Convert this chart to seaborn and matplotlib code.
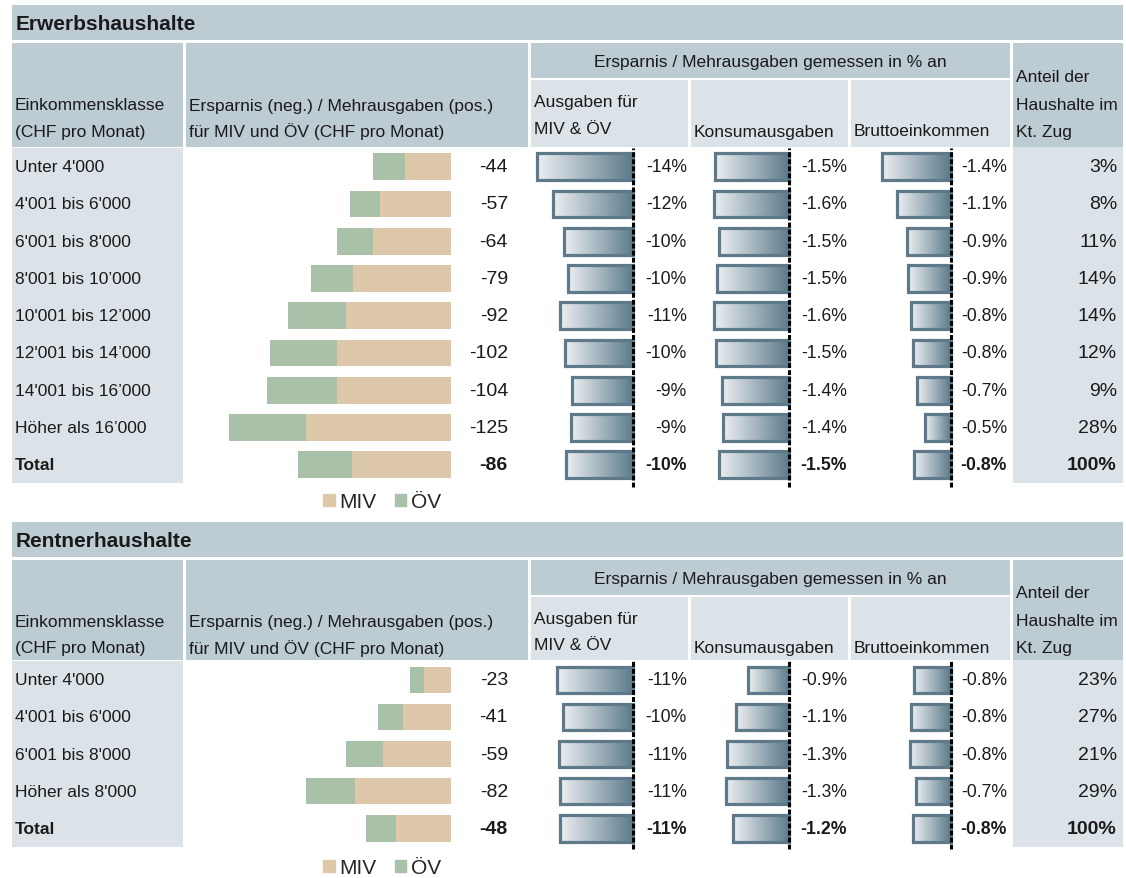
import numpy as np
import matplotlib
matplotlib.use("Agg")
import matplotlib.pyplot as plt
from matplotlib.patches import Rectangle, Patch
from matplotlib.colors import LinearSegmentedColormap
import seaborn as sns

sns.set_theme(style="white")
plt.rcParams["font.family"] = ["Liberation Sans", "DejaVu Sans"]

# ---------------------------------------------------------------- data
erwerb_klassen = ["Unter 4'000", "4'001 bis 6'000", "6'001 bis 8'000",
                  "8'001 bis 10’000", "10'001 bis 12’000", "12'001 bis 14’000",
                  "14'001 bis 16’000", "Höher als 16’000", "Total"]
erwerb_miv = [26, 40, 44, 55, 59, 64, 64, 82, 56]
erwerb_oev = [18, 17, 20, 24, 33, 38, 40, 43, 30]
erwerb_pct_mobil = [-14.0, -11.7, -10.1, -9.6, -10.7, -9.9, -8.9, -9.1, -9.8]
erwerb_pct_konsum = [-1.54, -1.56, -1.47, -1.50, -1.57, -1.52, -1.40, -1.38, -1.46]
erwerb_pct_einkommen = [-1.43, -1.11, -0.90, -0.88, -0.82, -0.79, -0.69, -0.54, -0.76]
erwerb_anteil = [3, 8, 11, 14, 14, 12, 9, 28, 100]

rentner_klassen = ["Unter 4'000", "4'001 bis 6'000", "6'001 bis 8'000",
                   "Höher als 8'000", "Total"]
rentner_miv = [15, 27, 38, 54, 31]
rentner_oev = [8, 14, 21, 28, 17]
rentner_pct_mobil = [-11.1, -10.2, -10.9, -10.7, -10.7]
rentner_pct_konsum = [-0.86, -1.10, -1.29, -1.31, -1.17]
rentner_pct_einkommen = [-0.76, -0.83, -0.84, -0.71, -0.78]
rentner_anteil = [23, 27, 21, 29, 100]

col_klasse = ["Einkommensklasse", "(CHF pro Monat)"]
col_chf = ["Ersparnis (neg.) / Mehrausgaben (pos.)", "für MIV und ÖV (CHF pro Monat)"]
col_group = "Ersparnis / Mehrausgaben gemessen in % an"
col_mobil = ["Ausgaben für", "MIV & ÖV"]
col_konsum = "Konsumausgaben"
col_einkommen = "Bruttoeinkommen"
col_anteil = ["Anteil der", "Haushalte im", "Kt. Zug"]
legend_labels = ["MIV", "ÖV"]

# ---------------------------------------------------------------- style
W, H = 1126, 879
DARK = "#bdcbd3"
LIGHT = "#dce3e8"
MIV_C = "#ddc9a9"
OEV_C = "#a9c1a9"
EDGE = "#5e7a8a"
TXT = "#1a1a1a"
grad_cmap = LinearSegmentedColormap.from_list("slate", ["#eceff2", "#5c7a8a"])
FS = 12.5        # headers and row labels
FS_TITLE = 15
FS_CHF = 14      # CHF values and household shares
FS_PCT = 12.7    # percentage labels
FS_LEG = 15

fig = plt.figure(figsize=(W / 100, H / 100), dpi=100)
fig.patch.set_facecolor("white")

bg = fig.add_axes([0, 0, 1, 1])
bg.set_xlim(0, W)
bg.set_ylim(H, 0)
bg.axis("off")


def px_axes(x0, y0, x1, y1):
    ax = fig.add_axes([x0 / W, 1 - y1 / H, (x1 - x0) / W, (y1 - y0) / H])
    ax.patch.set_alpha(0)
    return ax


def cell(x0, y0, x1, y1, color):
    bg.add_patch(Rectangle((x0, y0), x1 - x0, y1 - y0, color=color, lw=0, zorder=0))


def txt(x, y, s, ha="left", bold=False, size=FS):
    bg.text(x, y, s, ha=ha, va="center", fontsize=size, color=TXT,
            fontweight="bold" if bold else "normal", zorder=5)


BAR_W = 0.717
# (left px, right px, zero px, px per unit, label right px, decimals)
PCT_COLS = [(531, 688, 633.3, 6.85, 687, 0),
            (691, 848, 789.3, 48.0, 847, 1),
            (851, 1010, 950.5, 48.0, 1007, 1)]
CHF_COL = (186, 528, 450.7, 1.77)


def draw_section(top, rows_top, row_h, title, klassen, miv, oev,
                 p_mobil, p_konsum, p_eink, anteil, legend_y):
    n = len(klassen)
    rows_bot = rows_top + n * row_h
    centers = [rows_top + row_h * (i + 0.5) for i in range(n)]

    # header cells
    cell(12, top, 1123, top + 35, DARK)
    txt(16, top + 19, title, bold=True, size=FS_TITLE)
    htop, hbot = top + 38, rows_top - 1.5
    cell(12, htop, 183, hbot, DARK)
    cell(186, htop, 528, hbot, DARK)
    cell(531, htop, 1010, top + 73, DARK)
    cell(531, top + 75, 688, hbot, LIGHT)
    cell(691, top + 75, 848, hbot, LIGHT)
    cell(851, top + 75, 1010, hbot, LIGHT)
    cell(1013, htop, 1123, hbot, DARK)
    cell(12, rows_top, 183, rows_bot, LIGHT)
    cell(1013, hbot, 1123, rows_bot, LIGHT)

    txt(15, top + 100, col_klasse[0])
    txt(15, top + 126, col_klasse[1])
    txt(189, top + 100, col_chf[0])
    txt(189, top + 126, col_chf[1])
    txt(770.5, top + 57, col_group, ha="center")
    txt(534, top + 97, col_mobil[0])
    txt(534, top + 123, col_mobil[1])
    txt(694, top + 126, col_konsum)
    txt(854, top + 126, col_einkommen)
    txt(1016, top + 71, col_anteil[0])
    txt(1016, top + 99, col_anteil[1])
    txt(1016, top + 126, col_anteil[2])

    # row labels and shares
    for i, y in enumerate(centers):
        last = i == n - 1
        txt(15, y, klassen[i], bold=last)
        txt(1117, y, f"{anteil[i]}%", ha="right", bold=last, size=FS_CHF)

    # stacked CHF bars: MIV next to zero, ÖV beyond it
    miv_a = np.array(miv, dtype=float)
    oev_a = np.array(oev, dtype=float)
    total = -(miv_a + oev_a)
    x0, x1, zero, scale = CHF_COL
    ax = px_axes(x0, rows_top, x1, rows_bot)
    sns.barplot(x=total, y=klassen, orient="h", color=OEV_C, saturation=1,
                width=BAR_W, linewidth=0, ax=ax)
    sns.barplot(x=-miv_a, y=klassen, orient="h", color=MIV_C, saturation=1,
                width=BAR_W, linewidth=0, ax=ax)
    ax.set_xlim(-(zero - x0) / scale, (x1 - zero) / scale)
    ax.set_ylim(n - 0.5, -0.5)
    ax.axis("off")
    for i, y in enumerate(centers):
        txt(508, y, f"{total[i]:.0f}", ha="right", bold=(i == n - 1), size=FS_CHF)

    # percentage columns with gradient bars
    for (c0, c1, zero, scale, lab_x, dec), vals in zip(PCT_COLS, [p_mobil, p_konsum, p_eink]):
        ax = px_axes(c0, rows_top, c1, rows_bot)
        sns.barplot(x=vals, y=klassen, orient="h", color="white", saturation=1,
                    width=BAR_W, edgecolor=EDGE, linewidth=2.3, ax=ax)
        grad = np.linspace(0, 1, 256).reshape(1, -1)
        for patch in list(ax.patches):
            bb = patch.get_bbox()
            xl, xr = sorted([bb.x0, bb.x1])
            yl, yh = sorted([bb.y0, bb.y1])
            patch.set_facecolor("none")
            patch.set_zorder(3)
            im = ax.imshow(grad, extent=[xl, xr, yh, yl], aspect="auto",
                           cmap=grad_cmap, interpolation="bilinear", zorder=2)
            im.set_clip_path(patch)
        ax.axvline(0, ymin=-0.01, ymax=1.0, color="black", lw=2.2,
                   ls=(0, (1.6, 0.7)), zorder=4, clip_on=False)
        ax.set_xlim(-(zero - c0) / scale, (c1 - zero) / scale)
        ax.set_ylim(n - 0.5, -0.5)
        ax.axis("off")
        for i, y in enumerate(centers):
            txt(lab_x, y, f"{vals[i]:.{dec}f}%", ha="right", bold=(i == n - 1), size=FS_PCT)

    handles = [Patch(color=MIV_C, label=legend_labels[0]),
               Patch(color=OEV_C, label=legend_labels[1])]
    fig.legend(handles=handles, loc="center", bbox_to_anchor=(382 / W, 1 - legend_y / H),
               ncol=2, frameon=False, fontsize=FS_LEG, handlelength=0.55, handleheight=0.55,
               handletextpad=0.2, columnspacing=0.9, borderaxespad=0, borderpad=0)


draw_section(6, 149.1, 37.25, "Erwerbshaushalte", erwerb_klassen, erwerb_miv, erwerb_oev,
             erwerb_pct_mobil, erwerb_pct_konsum, erwerb_pct_einkommen, erwerb_anteil, 503)
draw_section(523, 662.3, 37.1, "Rentnerhaushalte", rentner_klassen, rentner_miv, rentner_oev,
             rentner_pct_mobil, rentner_pct_konsum, rentner_pct_einkommen, rentner_anteil, 869)

fig.savefig("out.png", dpi=100, facecolor="white")
